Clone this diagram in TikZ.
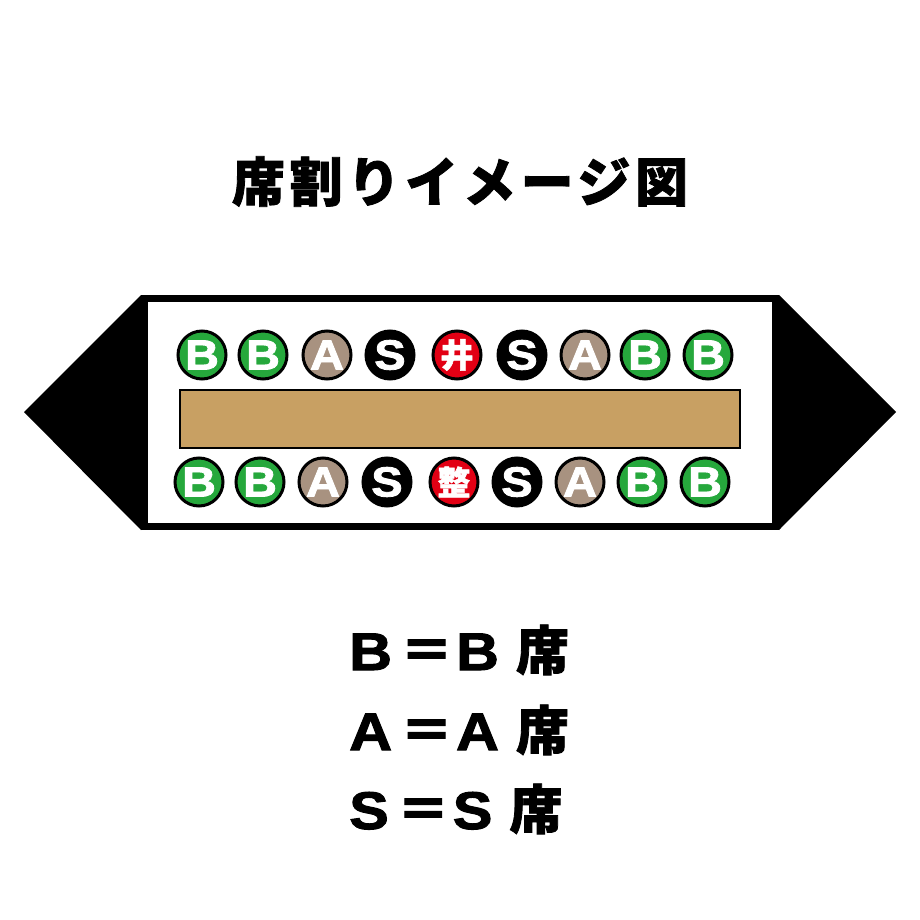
\documentclass[tikz,border=0pt]{standalone}
\usepackage{fontspec}
\setmainfont{Liberation Sans}
\newfontfamily\heavyfont{Liberation Sans}[UprightFont=* Bold,FakeBold=2,FakeStretch=1.12]
\newfontfamily\jpfont{Noto Sans CJK JP}[FakeBold=1.5]

\definecolor{seatgreen}{RGB}{38,168,60}
\definecolor{seatgray}{RGB}{168,146,128}
\definecolor{seatred}{RGB}{226,0,20}
\definecolor{tablebrown}{RGB}{200,160,99}

% seat text takes no room, so every circle keeps the same size
\newcommand{\seattext}[1]{\makebox[0pt]{\raisebox{\dimexpr-0.5\height+0.5\depth\relax}[0pt][0pt]{#1}}}
\newcommand{\kanji}[1]{{\jpfont\bfseries\fontsize{33}{33}\selectfont #1}}
\newcommand{\jp}[1]{{\jpfont\bfseries #1}}

\begin{document}
\begin{tikzpicture}[x=1pt,y=-1pt,
	seat/.style={circle,draw=black,line width=3pt,fill=#1,minimum size=48pt,inner sep=0pt,
		text=white,font=\heavyfont\fontsize{42}{42}\selectfont},
	legend/.style={anchor=base west,inner sep=0pt,font=\heavyfont\fontsize{53}{53}\selectfont}]
	\useasboundingbox[fill=white] (0,0) rectangle (920,920);

	% title
	\node[font=\jpfont\bfseries\fontsize{53}{53}\selectfont] (title) at (460,181.5)
		{\addfontfeature{LetterSpace=9}席割りイメージ図};

	% the room: two black ends and the white frame
	\fill (141,295) -- (141,530) -- (24,412) -- cycle;
	\fill (779,295) -- (779,530) -- (896,412) -- cycle;
	\draw[line width=7pt,fill=white] (144.5,298.5) rectangle (775.5,526.5);

	% the counter
	\draw[line width=1.5pt,fill=tablebrown] (180,390) rectangle (740,448);

	% seats, top row and bottom row
	\foreach \x/\c/\t [count=\i] in {202/seatgreen/B,263/seatgreen/B,327/seatgray/A,
		390/black/S,457/seatred/\kanji{井},522/black/S,585/seatgray/A,645/seatgreen/B,708/seatgreen/B}
		\node[seat=\c] (top\i) at (\x,355) {\seattext{\t}};
	\foreach \x/\c/\t [count=\i] in {199/seatgreen/B,260/seatgreen/B,323/seatgray/A,
		387/black/S,454/seatred/\kanji{整},517/black/S,580/seatgray/A,642/seatgreen/B,705/seatgreen/B}
		\node[seat=\c] (bot\i) at (\x,482) {\seattext{\t}};

	% legend
	\node[legend] (legB) at (349,670) {B\kern8pt\jp{＝}\kern3ptB\kern17pt\jp{席}};
	\node[legend] (legA) at (349,750) {A\kern8pt\jp{＝}\kern3ptA\kern17pt\jp{席}};
	\node[legend] (legS) at (349,829) {S\kern8pt\jp{＝}\kern3ptS\kern17pt\jp{席}};
\end{tikzpicture}
\end{document}
